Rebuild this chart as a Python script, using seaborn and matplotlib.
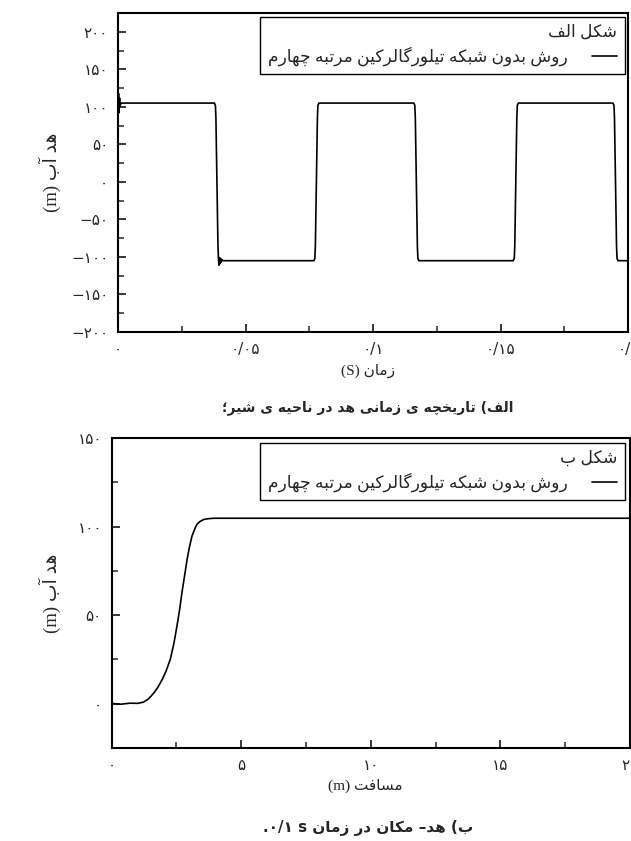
import matplotlib
matplotlib.use("Agg")
import matplotlib.pyplot as plt
import seaborn as sns
import pandas as pd
from matplotlib.ticker import FixedLocator, FixedFormatter, MultipleLocator

# ---------------- data ----------------
t_a = [0, 0.0002, 0.0004, 0.0006, 0.0008, 0.0012,
       0.0378, 0.0382, 0.0384, 0.0388, 0.0392, 0.0394, 0.0396, 0.0398, 0.0400,
       0.0402, 0.0404, 0.0407, 0.0411,
       0.0768, 0.0772, 0.0774, 0.0778, 0.0782, 0.0784, 0.0788,
       0.1160, 0.1164, 0.1166, 0.1170, 0.1174, 0.1176, 0.1180,
       0.1550, 0.1554, 0.1556, 0.1560, 0.1564, 0.1566, 0.1570,
       0.1941, 0.1945, 0.1947, 0.1951, 0.1955, 0.1957, 0.1961,
       0.2000]
h_a = [84, 118, 92, 112, 101, 105,
       105, 102, 85, 0, -85, -102, -111, -101, -109,
       -102, -107, -103.5, -105,
       -105, -102, -85, 0, 85, 102, 105,
       105, 102, 85, 0, -85, -102, -105,
       -105, -102, -85, 0, 85, 102, 105,
       105, 102, 85, 0, -85, -102, -105,
       -105]

x_b = [0, 0.35, 0.7, 1.0, 1.23, 1.40, 1.52, 1.65, 1.77, 1.95, 2.1, 2.26, 2.4,
       2.52, 2.62, 2.71, 2.81, 2.91, 3.0, 3.10, 3.2, 3.29, 3.4, 3.55, 3.7,
       3.94, 20]
h_b = [0.2, -0.3, 0.3, 0.2, 0.9, 2.5, 4.3, 6.5, 9, 13.7, 18.5, 25, 34,
       44, 53, 62.7, 72, 81.5, 88.5, 94.7, 98.5, 101.3, 102.8, 104, 104.4,
       104.7, 104.7]

ya_ticks = [-200, -150, -100, -50, 0, 50, 100, 150, 200]
ya_labels = ["\u2212۲۰۰", "\u2212۱۵۰", "\u2212۱۰۰", "\u2212۵۰", "۰", "۵۰", "۱۰۰", "۱۵۰", "۲۰۰"]
xa_ticks = [0, 0.05, 0.1, 0.15, 0.2]
xa_labels = ["۰", "۰/۰۵", "۰/۱", "۰/۱۵", "۰/۲"]
yb_ticks = [0, 50, 100, 150]
yb_labels = ["۰", "۵۰", "۱۰۰", "۱۵۰"]
xb_ticks = [0, 5, 10, 15, 20]
xb_labels = ["۰", "۵", "۱۰", "۱۵", "۲۰"]

series_label = "روش بدون شبکه تیلورگالرکین مرتبه چهارم"
title_a = "شکل الف"
title_b = "شکل ب"
ylabel_fa = "هد آب"
xlabel_a_fa = "زمان"
xlabel_b_fa = "مسافت"
caption_a = "الف) تاریخچه ی زمانی هد در ناحیه ی شیر؛"
caption_b_fa = "ب) هد– مکان در زمان"

# ---------------- minimal Persian shaping (presentation forms) ----------------
def _r(a, n):
    return tuple(chr(a + i) for i in range(n))

FORMS = {
    '\u0622': _r(0xFE81, 2), '\u0627': _r(0xFE8D, 2),
    '\u0628': _r(0xFE8F, 4), '\u067E': _r(0xFB56, 4),
    '\u062A': _r(0xFE95, 4), '\u062B': _r(0xFE99, 4),
    '\u062C': _r(0xFE9D, 4), '\u0686': _r(0xFB7A, 4),
    '\u062D': _r(0xFEA1, 4), '\u062E': _r(0xFEA5, 4),
    '\u062F': _r(0xFEA9, 2), '\u0630': _r(0xFEAB, 2),
    '\u0631': _r(0xFEAD, 2), '\u0632': _r(0xFEAF, 2),
    '\u0698': _r(0xFB8A, 2),
    '\u0633': _r(0xFEB1, 4), '\u0634': _r(0xFEB5, 4),
    '\u0635': _r(0xFEB9, 4), '\u0636': _r(0xFEBD, 4),
    '\u0637': _r(0xFEC1, 4), '\u0638': _r(0xFEC5, 4),
    '\u0639': _r(0xFEC9, 4), '\u063A': _r(0xFECD, 4),
    '\u0641': _r(0xFED1, 4), '\u0642': _r(0xFED5, 4),
    '\u06A9': _r(0xFB8E, 4), '\u06AF': _r(0xFB92, 4),
    '\u0644': _r(0xFEDD, 4), '\u0645': _r(0xFEE1, 4),
    '\u0646': _r(0xFEE5, 4), '\u0647': _r(0xFEE9, 4),
    '\u0648': _r(0xFEED, 2), '\u06CC': _r(0xFBFC, 4),
}


def shape(s):
    out = []
    n = len(s)
    for i, ch in enumerate(s):
        if ch not in FORMS:
            out.append(ch)
            continue
        f = FORMS[ch]
        prev = s[i - 1] if i > 0 else None
        nxt = s[i + 1] if i < n - 1 else None
        jp = prev in FORMS and len(FORMS[prev]) == 4
        jn = nxt in FORMS and len(f) == 4
        if jp and jn:
            out.append(f[3])
        elif jp:
            out.append(f[1])
        elif jn:
            out.append(f[2])
        else:
            out.append(f[0])
    return "".join(out)


def fa(s):
    v = shape(s)[::-1]
    return v.translate(str.maketrans({"(": ")", ")": "("}))


# ---------------- style ----------------
sns.set_theme(style="ticks")
plt.rcParams["font.family"] = ["Liberation Serif", "DejaVu Sans"]
plt.rcParams["axes.linewidth"] = 1.5

fig = plt.figure(figsize=(6.31, 8.41), dpi=100)
ax_a = fig.add_axes([118 / 631, 1 - 332 / 841, 510 / 631, 319 / 841])
ax_b = fig.add_axes([111.7 / 631, 1 - 748 / 841, 518.3 / 631, 310 / 841])

df_a = pd.DataFrame({"t": t_a, "h": h_a})
df_b = pd.DataFrame({"x": x_b, "h": h_b})

sns.lineplot(data=df_a, x="t", y="h", ax=ax_a, color="black", lw=1.2,
             estimator=None, sort=False, label=fa(series_label))
sns.lineplot(data=df_b, x="x", y="h", ax=ax_b, color="black", lw=1.2,
             estimator=None, sort=False, label=fa(series_label))

tick_font = ["DejaVu Sans"]


def style_axes(ax, xt, xl, yt, yl, xlim, ylim, xminor, yminor):
    ax.set_xlim(*xlim)
    ax.set_ylim(*ylim)
    ax.xaxis.set_major_locator(FixedLocator(xt))
    ax.xaxis.set_major_formatter(FixedFormatter(xl))
    ax.yaxis.set_major_locator(FixedLocator(yt))
    ax.yaxis.set_major_formatter(FixedFormatter(yl))
    ax.xaxis.set_minor_locator(MultipleLocator(xminor))
    ax.yaxis.set_minor_locator(MultipleLocator(yminor))
    ax.tick_params(which="major", direction="in", length=6, width=1.3,
                   labelsize=11, pad=7, top=False, right=False)
    ax.tick_params(which="minor", direction="in", length=4, width=1.1,
                   top=False, right=False)
    for lab in ax.get_xticklabels() + ax.get_yticklabels():
        lab.set_family(tick_font)
    for sp in ax.spines.values():
        sp.set_visible(True)
        sp.set_linewidth(1.5)
        sp.set_color("black")
    ax.grid(False)


style_axes(ax_a, xa_ticks, xa_labels, ya_ticks, ya_labels, (0, 0.2), (-200, 225), 0.025, 25)
style_axes(ax_b, xb_ticks, xb_labels, yb_ticks, yb_labels, (0, 20), (-25, 150), 2.5, 25)

# axis labels
ax_a.set_ylabel("(m) " + fa(ylabel_fa), fontsize=13.5)
ax_a.yaxis.set_label_coords(-0.112, 0.5)
ax_a.set_xlabel("(S) " + fa(xlabel_a_fa), fontsize=11)
ax_a.xaxis.set_label_coords(0.49, -0.10)

ax_b.set_ylabel("(m) " + fa(ylabel_fa), fontsize=13.5)
ax_b.yaxis.set_label_coords(-0.098, 0.5)
ax_b.set_xlabel("(m) " + fa(xlabel_b_fa), fontsize=11)
ax_b.xaxis.set_label_coords(0.49, -0.10)


def make_legend(ax, title, anchor):
    leg = ax.legend(title=fa(title), loc="upper right", bbox_to_anchor=anchor,
                    borderaxespad=0, markerfirst=False, alignment="right",
                    frameon=True, fancybox=False, edgecolor="black",
                    framealpha=1, handlelength=1.5, handletextpad=1.4,
                    borderpad=0.45, fontsize=12.3, title_fontsize=12.3,
                    labelspacing=0.35)
    leg.get_frame().set_linewidth(1.0)
    return leg


make_legend(ax_a, title_a, (0.994, 0.9875))
make_legend(ax_b, title_b, (0.990, 0.984))

# captions
fig.text(368 / 631, 1 - 408 / 841, fa(caption_a), ha="center", va="center",
         fontsize=10, fontweight="bold", family=["DejaVu Sans"])
fig.text(368 / 631, 1 - 828 / 841, ".۰/۱ s " + fa(caption_b_fa), ha="center",
         va="center", fontsize=11, fontweight="bold",
         family=["DejaVu Sans"])

fig.savefig("out.png", dpi=100)
